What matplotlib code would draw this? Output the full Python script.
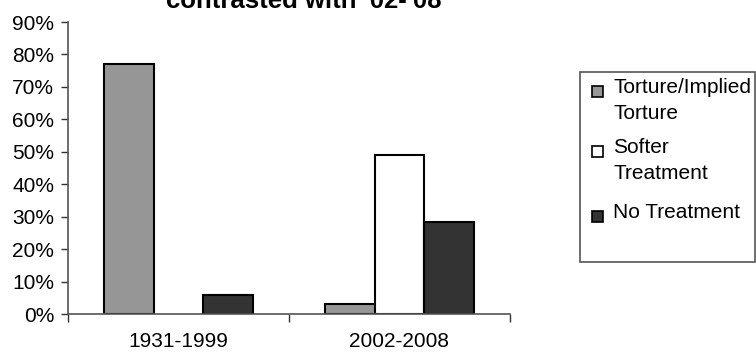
import matplotlib
matplotlib.use("Agg")
import matplotlib.pyplot as plt
import matplotlib.patches as mpatches
import numpy as np

plt.rcParams['font.family'] = ['Liberation Sans', 'DejaVu Sans']

categories = ["1931-1999", "2002-2008"]
series_names = ["Torture/Implied\nTorture", "Softer\nTreatment", "No Treatment"]
torture = [77, 3.2]
softer = [0, 49]
no_treatment = [5.9, 28.3]
series_colors = ["#969696", "#ffffff", "#333333"]
y_ticks = [0, 10, 20, 30, 40, 50, 60, 70, 80, 90]
y_tick_labels = [f"{v}%" for v in y_ticks]
title_text = "contrasted with '02-'08"

W, H = 756, 356
FS = 15
fig = plt.figure(figsize=(W / 100, H / 100), dpi=100)
ax = fig.add_axes([68 / W, 1 - 314 / H, (510 - 68) / W, (314 - 22) / H])

x = np.arange(len(categories))
bw = 0.226
series = [torture, softer, no_treatment]
for i, (vals, col, name) in enumerate(zip(series, series_colors, series_names)):
    bars = ax.bar(x + (i - 1) * bw, vals, width=bw, color=col,
                  edgecolor="black", linewidth=1.5, label=name)
    for b, v in zip(bars, vals):
        if v == 0:
            b.set_visible(False)

ax.set_xlim(-0.5, 1.5)
ax.set_ylim(0, 90)
ax.set_yticks(y_ticks)
ax.set_yticklabels(y_tick_labels, fontsize=FS)
ax.set_xticks([-0.5, 0.5, 1.5])
ax.set_xticklabels([])
ax.set_xticks(x, minor=True)
ax.set_xticklabels(categories, minor=True, fontsize=FS)
ax.tick_params(axis="x", which="minor", length=0, pad=13)
ax.tick_params(axis="x", which="major", length=6, width=1, color="#333333", direction="out")
ax.tick_params(axis="y", length=5, width=1, color="#333333", direction="out", pad=5)
for s in ["top", "right"]:
    ax.spines[s].set_visible(False)
for s in ["left", "bottom"]:
    ax.spines[s].set_color("#555555")
    ax.spines[s].set_linewidth(1.2)

fig.text(304 / W, 1 - 7.5 / H, title_text, ha="center", va="baseline",
         fontsize=18.5, fontweight="bold")

# legend frame
frame = mpatches.Rectangle((580 / W, 1 - 262 / H), (755 - 580) / W, (262 - 72) / H,
                           transform=fig.transFigure, facecolor="white",
                           edgecolor="#555555", linewidth=1.2)
fig.patches.append(frame)
# legend entries (manual, handles aligned with first line of each label)
entry_tops = [78, 138, 203]
for name, col, top in zip(series_names, series_colors, entry_tops):
    sq = mpatches.Rectangle((592 / W, 1 - (top + 19) / H), 11 / W, 11 / H,
                            transform=fig.transFigure, facecolor=col,
                            edgecolor="black", linewidth=1.2)
    fig.patches.append(sq)
    fig.text(613 / W, 1 - top / H, name, ha="left", va="top", fontsize=FS,
             linespacing=1.45)

fig.savefig("out.png", dpi=100)
